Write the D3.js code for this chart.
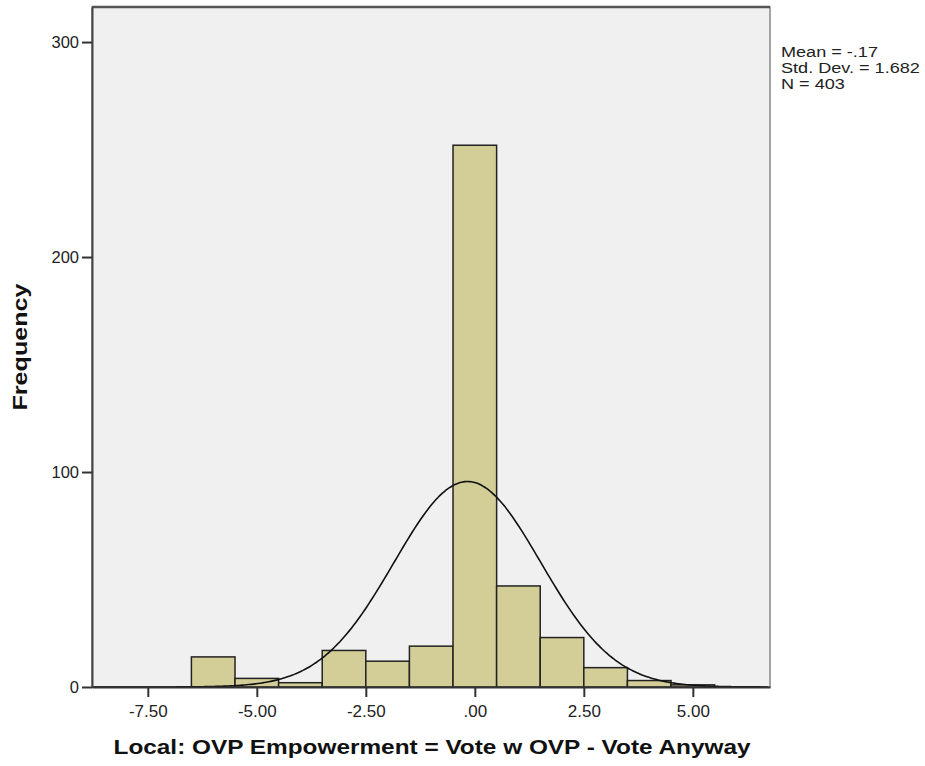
<!DOCTYPE html>
<html>
<head>
<meta charset="utf-8">
<script src="https://cdn.jsdelivr.net/npm/d3@7"></script>
<style>
  body { margin: 0; background: #fff; }
  text { font-family: "Liberation Sans", Arial, sans-serif; }
</style>
</head>
<body>
<div class="chart-div"></div>
<script>
// histogram bins (centres) and counts
var binCenters = [-6, -5, -4, -3, -2, -1, 0, 1, 2, 3, 4, 5];
var counts = [14, 4, 2, 17, 12, 19, 252, 47, 23, 9, 3, 1];
var xTicks = [-7.5, -5, -2.5, 0, 2.5, 5];
var yTicks = [0, 100, 200, 300];
var stats = ["Mean = -.17", "Std. Dev. = 1.682", "N = 403"];
var mean = -0.17, sd = 1.682, n = 403, binWidth = 1;

var width = 925, height = 766;
var pLeft = 92, pRight = 770, pTop = 7, pBottom = 687;

const svg = d3.select(".chart-div").append("svg")
    .attr("width", width)
    .attr("height", height);

const x = d3.scaleLinear().domain([-8.78, 6.77]).range([pLeft, pRight]);
const y = d3.scaleLinear().domain([0, 316.3]).range([pBottom, pTop]);

// plot background
svg.append("rect")
    .attr("x", pLeft).attr("y", pTop)
    .attr("width", pRight - pLeft).attr("height", pBottom - pTop)
    .attr("fill", "#f0f0f0")
    .attr("stroke", "#888")
    .attr("stroke-width", 1.5);

svg.append("line")
    .attr("x1", pLeft).attr("x2", pRight)
    .attr("y1", pTop).attr("y2", pTop)
    .attr("stroke", "#555").attr("stroke-width", 2.5);

// bars
svg.append("g").selectAll("rect")
    .data(binCenters)
    .join("rect")
    .attr("x", (d) => x(d - binWidth / 2))
    .attr("width", (d) => x(d + binWidth / 2) - x(d - binWidth / 2))
    .attr("y", (d, i) => y(counts[i]))
    .attr("height", (d, i) => y(0) - y(counts[i]))
    .attr("fill", "#d3ce97")
    .attr("stroke", "#222")
    .attr("stroke-width", 1.5);

// normal curve
var curveX = d3.range(-8.78, 6.77, 0.05);
const line = d3.line()
    .x((d) => x(d))
    .y((d) => y(n * binWidth * Math.exp(-0.5 * Math.pow((d - mean) / sd, 2)) / (sd * Math.sqrt(2 * Math.PI))))
    .curve(d3.curveBasis);

svg.append("path")
    .datum(curveX)
    .attr("d", line)
    .attr("fill", "none")
    .attr("stroke", "#111")
    .attr("stroke-width", 1.6);

// axes
function fmt(d) {
    if (d === 0) return ".00";
    return d3.format(".2f")(d).replace("\u2212", "-");
}

const xAxis = d3.axisBottom(x)
    .tickValues(xTicks)
    .tickSize(10)
    .tickSizeOuter(0)
    .tickFormat(fmt);

const gx = svg.append("g")
    .attr("transform", "translate(0," + pBottom + ")")
    .call(xAxis);
gx.select(".domain").attr("stroke", "#333").attr("stroke-width", 2);
gx.selectAll(".tick line").attr("stroke", "#333").attr("stroke-width", 2);
gx.selectAll("text").attr("font-size", 17).attr("fill", "#222")
    .attr("y", 30).attr("dy", null);

const yAxis = d3.axisLeft(y)
    .tickValues(yTicks)
    .tickSize(10)
    .tickSizeOuter(0)
    .tickFormat(d3.format("d"));

const gy = svg.append("g")
    .attr("transform", "translate(" + pLeft + ",0)")
    .call(yAxis);
gy.select(".domain").attr("stroke", "#444").attr("stroke-width", 2);
gy.selectAll(".tick line").attr("stroke", "#333").attr("stroke-width", 2);
gy.selectAll("text").attr("font-size", 16.5).attr("fill", "#222").attr("x", -13);

// stats text, stretched a little to the reference width
const gs = svg.append("g");
const st = gs.selectAll("text")
    .data(stats)
    .join("text")
    .attr("x", 0)
    .attr("y", (d, i) => 57 + i * 16)
    .attr("font-size", 15.5)
    .attr("fill", "#222")
    .text((d) => d);
var wMax = d3.max(st.nodes(), (nd) => nd.getComputedTextLength());
gs.attr("transform", "translate(781,0) scale(" + (139 / wMax) + ",1)");

// axis titles
svg.append("text")
    .attr("transform", "translate(27,347) rotate(-90)")
    .attr("text-anchor", "middle")
    .attr("font-size", 20)
    .attr("font-weight", "bold")
    .attr("fill", "#111")
    .attr("textLength", 127)
    .attr("lengthAdjust", "spacingAndGlyphs")
    .text("Frequency");

svg.append("text")
    .attr("x", 432)
    .attr("y", 754)
    .attr("text-anchor", "middle")
    .attr("font-size", 20)
    .attr("font-weight", "bold")
    .attr("fill", "#111")
    .attr("textLength", 637)
    .attr("lengthAdjust", "spacingAndGlyphs")
    .text("Local: OVP Empowerment = Vote w OVP - Vote Anyway");
</script>
</body>
</html>
